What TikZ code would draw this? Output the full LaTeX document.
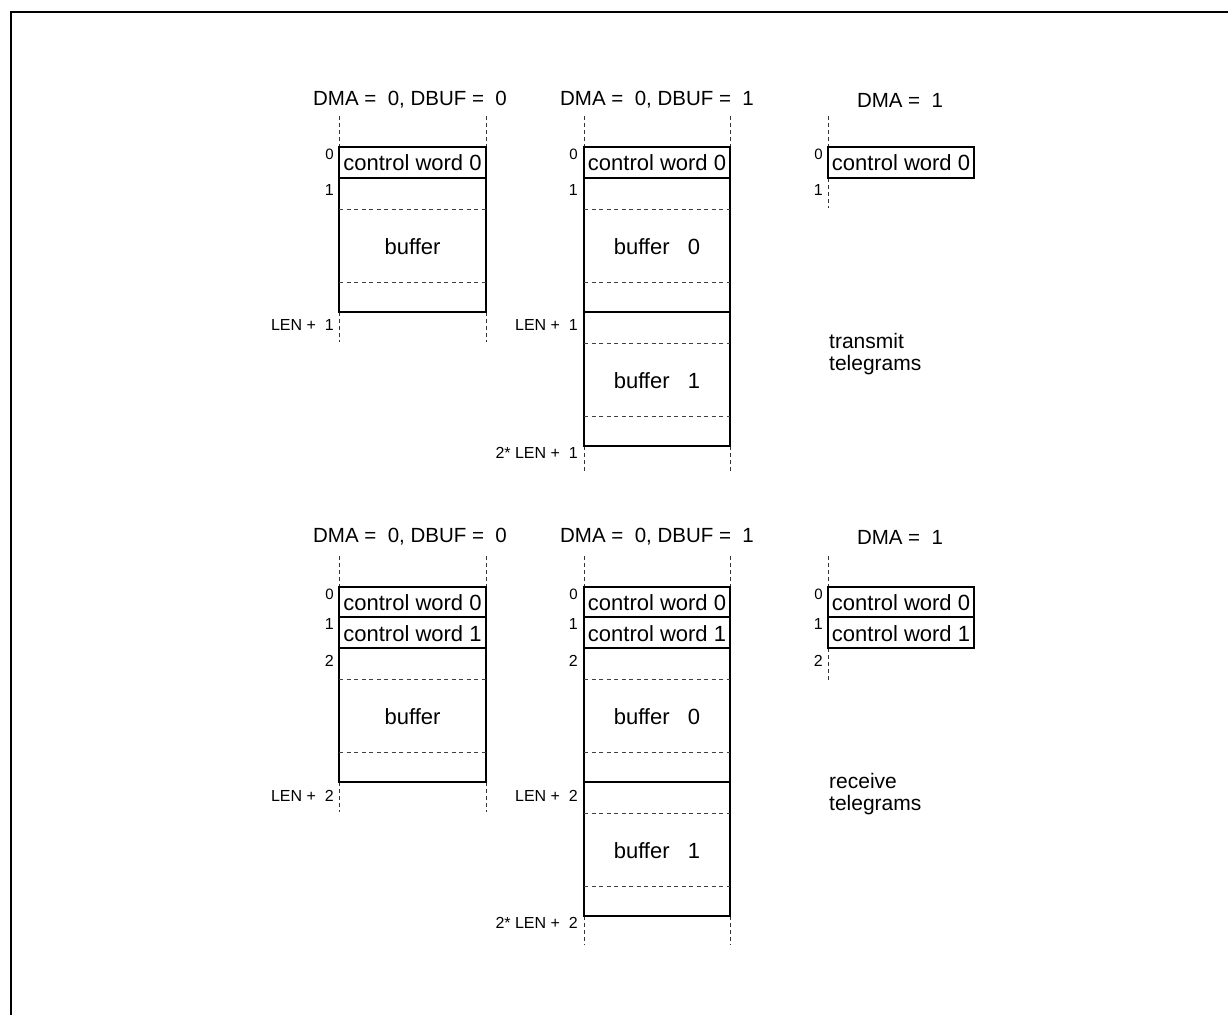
\documentclass[tikz,border=0pt]{standalone}
\usepackage{fontspec}
\setmainfont{Liberation Sans}
\begin{document}
\begin{tikzpicture}[x=1pt,y=-1pt,
  box/.style={draw=black,line width=1.6pt},
  dl/.style={draw=black!75,line width=0.9pt,dash pattern=on 4pt off 3.5pt},
  vl/.style={draw=black!80,line width=0.9pt,dash pattern=on 4pt off 3pt},
  ttl/.style={inner sep=0pt,font=\fontsize{20.5}{24}\selectfont},
  txt/.style={inner sep=0pt,font=\fontsize{22}{26}\selectfont},
  lab/.style={inner sep=0pt,anchor=east,font=\fontsize{16}{18}\selectfont},
  sup/.style={inner sep=0pt,anchor=east,font=\fontsize{15}{17}\selectfont},
  side/.style={inner sep=0pt,anchor=north west,align=left,font=\fontsize{21}{22}\selectfont}]
\useasboundingbox (0,0) rectangle (1228,1014);
\draw[line width=2pt] (11,1016) -- (11,12) -- (1230,12);

% ===== transmit =====
\node[ttl] (t1) at (410,100) {DMA =\ \ 0, DBUF =\ \ 0};
\node[ttl] (t2) at (657,100) {DMA =\ \ 0, DBUF =\ \ 1};
\node[ttl] (t3) at (900,100) {DMA =\ \ 1};

% column 1
\draw[vl] (339,116) -- (339,147) (486,116) -- (486,147);
\draw[vl] (339,312) -- (339,342) (486,312) -- (486,342);
\draw[box] (339,147) rectangle (486,178);
\draw[box] (339,178) rectangle (486,312);
\draw[dl] (339,209) -- (486,209) (339,282) -- (486,282);
\node[txt] (a1) at (412.5,163) {control word 0};
\node[txt] (a2) at (412.5,247) {buffer};
\node[sup] (a3) at (334,154) {0};
\node[lab] (a4) at (334,190) {1};
\node[lab] (a5) at (334,325) {LEN +\ \ 1};

% column 2
\draw[vl] (584,116) -- (584,147) (730,116) -- (730,147);
\draw[vl] (584,446) -- (584,472) (730,446) -- (730,472);
\draw[box] (584,147) rectangle (730,178);
\draw[box] (584,178) rectangle (730,312);
\draw[box] (584,312) rectangle (730,446);
\draw[dl] (584,209) -- (730,209) (584,282) -- (730,282);
\draw[dl] (584,343) -- (730,343) (584,416) -- (730,416);
\node[txt] (b1) at (657,163) {control word 0};
\node[txt] (b2) at (657,247) {buffer\ \ \ 0};
\node[txt] (b3) at (657,381) {buffer\ \ \ 1};
\node[sup] (b4) at (578,154) {0};
\node[lab] (b5) at (578,190) {1};
\node[lab] (b6) at (578,325) {LEN +\ \ 1};
\node[lab] (b7) at (578,453) {2* LEN +\ \ 1};

% column 3
\draw[vl] (828,116) -- (828,147) (828,178) -- (828,208);
\draw[box] (828,147) rectangle (974,178);
\node[txt] (c1) at (901,163) {control word 0};
\node[sup] (c2) at (823,154) {0};
\node[lab] (c3) at (823,190) {1};
\node[side] (c4) at (829,333) {transmit\\telegrams};

% ===== receive =====
\node[ttl] (r1) at (410,537) {DMA =\ \ 0, DBUF =\ \ 0};
\node[ttl] (r2) at (657,537) {DMA =\ \ 0, DBUF =\ \ 1};
\node[ttl] (r3) at (900,537) {DMA =\ \ 1};

% column 1
\draw[vl] (339,556) -- (339,587) (486,556) -- (486,587);
\draw[vl] (339,782) -- (339,812) (486,782) -- (486,812);
\draw[box] (339,587) rectangle (486,617);
\draw[box] (339,617) rectangle (486,648);
\draw[box] (339,648) rectangle (486,782);
\draw[dl] (339,679) -- (486,679) (339,752) -- (486,752);
\node[txt] (d1) at (412.5,603) {control word 0};
\node[txt] (d2) at (412.5,634) {control word 1};
\node[txt] (d3) at (412.5,717) {buffer};
\node[sup] (d4) at (334,594) {0};
\node[lab] (d5) at (334,624) {1};
\node[lab] (d6) at (334,661) {2};
\node[lab] (d7) at (334,796) {LEN +\ \ 2};

% column 2
\draw[vl] (584,556) -- (584,587) (730,556) -- (730,587);
\draw[vl] (584,916) -- (584,945) (730,916) -- (730,945);
\draw[box] (584,587) rectangle (730,617);
\draw[box] (584,617) rectangle (730,648);
\draw[box] (584,648) rectangle (730,782);
\draw[box] (584,782) rectangle (730,916);
\draw[dl] (584,679) -- (730,679) (584,752) -- (730,752);
\draw[dl] (584,813) -- (730,813) (584,886) -- (730,886);
\node[txt] (e1) at (657,603) {control word 0};
\node[txt] (e2) at (657,634) {control word 1};
\node[txt] (e3) at (657,717) {buffer\ \ \ 0};
\node[txt] (e4) at (657,851) {buffer\ \ \ 1};
\node[sup] (e5) at (578,594) {0};
\node[lab] (e6) at (578,624) {1};
\node[lab] (e7) at (578,661) {2};
\node[lab] (e8) at (578,796) {LEN +\ \ 2};
\node[lab] (e9) at (578,923) {2* LEN +\ \ 2};

% column 3
\draw[vl] (828,556) -- (828,587) (828,648) -- (828,680);
\draw[box] (828,587) rectangle (974,617);
\draw[box] (828,617) rectangle (974,648);
\node[txt] (f1) at (901,603) {control word 0};
\node[txt] (f2) at (901,634) {control word 1};
\node[sup] (f3) at (823,594) {0};
\node[lab] (f4) at (823,624) {1};
\node[lab] (f5) at (823,661) {2};
\node[side] (f6) at (829,773) {receive\\telegrams};
\end{tikzpicture}
\end{document}
